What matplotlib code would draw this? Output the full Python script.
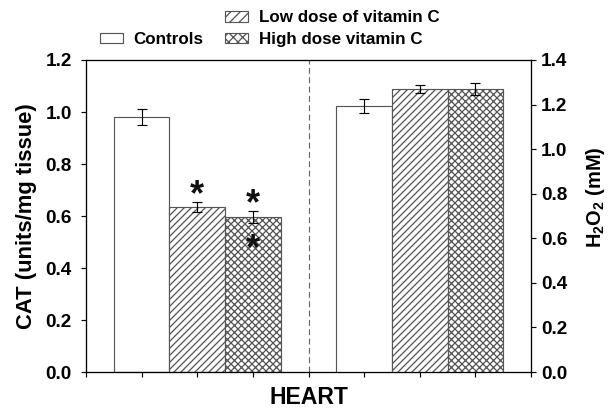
import numpy as np
import matplotlib
matplotlib.use("Agg")
import matplotlib.pyplot as plt
from matplotlib.patches import Patch

# data
groups = ["Controls", "Low dose of vitamin C", "High dose vitamin C"]
cat_mean = [0.98, 0.635, 0.597]
cat_err = [0.03, 0.02, 0.023]
h2o2_mean = [1.193, 1.27, 1.27]
h2o2_err = [0.03, 0.02, 0.027]
cat_x = [1, 2, 3]
h2o2_x = [5, 6, 7]
hatches = ["", "////", "xxxx"]
# significance stars: (x, value) on CAT axis
star_x = [2, 3, 3]
star_y = [0.68, 0.642, 0.47]

DPI = 84
def pt(px):
    return px * 72.0 / DPI

plt.rcParams["font.family"] = ["Liberation Sans", "DejaVu Sans"]
plt.rcParams["font.weight"] = "bold"
plt.rcParams["mathtext.fontset"] = "custom"
plt.rcParams["mathtext.rm"] = "Liberation Sans:bold"
plt.rcParams["mathtext.it"] = "Liberation Sans:bold"
plt.rcParams["mathtext.bf"] = "Liberation Sans:bold"
plt.rcParams["hatch.linewidth"] = 1.1
plt.rcParams["hatch.color"] = "#222222"

fig = plt.figure(figsize=(609 / DPI, 411 / DPI), dpi=DPI)
ax = fig.add_axes([86 / 609, 1 - 372 / 411, (531 - 86) / 609, (372 - 60) / 411])
ax2 = ax.twinx()

edge = "#555555"
for i in range(3):
    ax.bar(cat_x[i], cat_mean[i], width=1.0, color="white", edgecolor=edge,
           linewidth=1.0, hatch=hatches[i], label=groups[i], zorder=2)
    ax2.bar(h2o2_x[i], h2o2_mean[i], width=1.0, color="white", edgecolor=edge,
            linewidth=1.0, hatch=hatches[i], zorder=2)
ax.errorbar(cat_x, cat_mean, yerr=cat_err, fmt="none", ecolor="black",
            elinewidth=1.0, capsize=pt(5), capthick=1.0, zorder=3)
ax2.errorbar(h2o2_x, h2o2_mean, yerr=h2o2_err, fmt="none", ecolor="black",
             elinewidth=1.0, capsize=pt(5), capthick=1.0, zorder=3)

for sx, sy in zip(star_x, star_y):
    ax.text(sx, sy, "*", ha="center", va="center", fontsize=pt(36),
            fontweight="bold", color="#111111", zorder=4)

ax.axvline(4, color="#666666", linestyle=(0, (5, 3)), linewidth=1.0)

ax.set_xlim(0, 8)
ax.set_ylim(0, 1.2)
ax2.set_ylim(0, 1.4)
ax.set_xticks(np.arange(0, 9))
ax.set_xticklabels([])
ax.set_yticks(np.arange(0, 1.21, 0.2))
ax2.set_yticks(np.arange(0, 1.41, 0.2))
ax.yaxis.set_major_formatter(matplotlib.ticker.FormatStrFormatter("%.1f"))
ax2.yaxis.set_major_formatter(matplotlib.ticker.FormatStrFormatter("%.1f"))
for a in (ax, ax2):
    a.tick_params(direction="out", length=pt(5), width=1.0, labelsize=pt(19))
    for s in a.spines.values():
        s.set_linewidth(1.0)
ax.tick_params(axis="y", pad=pt(9))
ax2.tick_params(axis="y", pad=pt(5))

ax.set_ylabel("CAT (units/mg tissue)", fontsize=pt(22), fontweight="bold",
              labelpad=pt(9))
ax2.set_ylabel(r"H$_2$O$_2$ (mM)", fontsize=pt(20), fontweight="bold",
               rotation=90)
ax2.yaxis.set_label_coords(1.118, 0.56)
ax.set_xlabel("HEART", fontsize=pt(23), fontweight="bold", labelpad=pt(5))

blank = Patch(facecolor="none", edgecolor="none", label=" ")
handles = [blank,
           Patch(facecolor="white", edgecolor=edge, label=groups[0]),
           Patch(facecolor="white", edgecolor=edge, hatch="///", label=groups[1]),
           Patch(facecolor="white", edgecolor=edge, hatch="xxx", label=groups[2])]
fig.legend(handles=handles, ncol=2, loc="upper left",
           bbox_to_anchor=(90 / 609, 1), frameon=False, borderaxespad=0.2,
           fontsize=pt(17), handlelength=1.35, handleheight=0.6,
           handletextpad=0.6, columnspacing=1.3, labelspacing=0.4)

fig.savefig("out.png", dpi=DPI)
